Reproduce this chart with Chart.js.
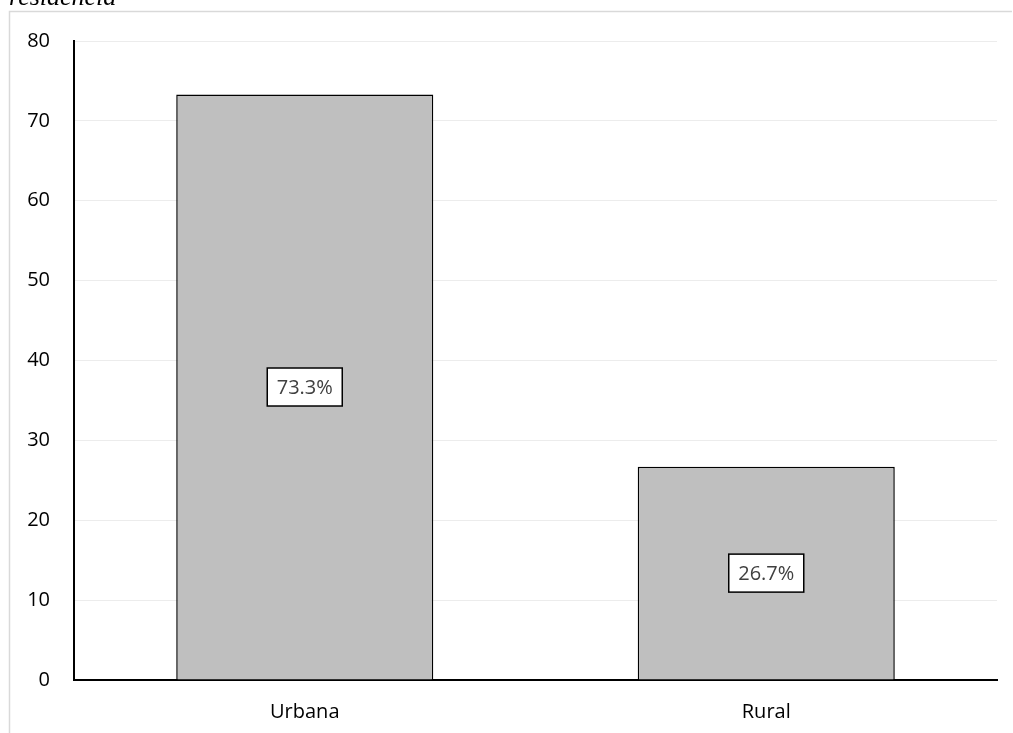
<!DOCTYPE html>
<html>
<head>
<meta charset="utf-8">
<script src="https://cdn.jsdelivr.net/npm/chart.js@4/dist/chart.umd.min.js"></script>
<style>
  html, body { margin: 0; padding: 0; background: #fff; overflow: hidden; }
  #wrap { position: relative; width: 1013px; height: 733px; }
  #titulo {
    position: absolute; left: 9px; top: -18px;
    font-family: "Liberation Serif", serif; font-style: italic; font-size: 26px; color: #000;
  }
  canvas { position: absolute; left: 0; top: 0; }
</style>
</head>
<body>
<div id="wrap">
  <canvas id="chartResidencia" width="1013" height="733"></canvas>
  <div id="titulo">residencia</div>
</div>
<script>
const categorias = ['Urbana', 'Rural'];
const porcentajes = [73.3, 26.7];
const ticksY = [0, 10, 20, 30, 40, 50, 60, 70, 80];

// marco gris del grafico + etiquetas en caja
const marcoYEtiquetas = {
  id: 'marcoYEtiquetas',
  beforeDraw(chart) {
    const c = chart.ctx;
    c.save();
    c.strokeStyle = '#d9d9d9';
    c.lineWidth = 1.5;
    c.beginPath();
    c.moveTo(9.5, 740);
    c.lineTo(9.5, 11.5);
    c.lineTo(1012, 11.5);
    c.stroke();
    c.restore();
  },
  afterDatasetsDraw(chart) {
    const c = chart.ctx;
    const meta = chart.getDatasetMeta(0);
    c.save();
    c.font = '20px "Open Sans"';
    c.textAlign = 'center';
    c.textBaseline = 'middle';
    meta.data.forEach((bar, i) => {
      const txt = porcentajes[i].toFixed(1) + '%';
      const y = (bar.y + bar.base) / 2;
      const w = 75, h = 38;
      c.fillStyle = '#fff';
      c.fillRect(bar.x - w / 2, y - h / 2, w, h);
      c.strokeStyle = '#000';
      c.lineWidth = 1.5;
      c.strokeRect(bar.x - w / 2, y - h / 2, w, h);
      c.fillStyle = '#404040';
      c.fillText(txt, bar.x, y + 1);
    });
    c.restore();
  }
};

const ctx = document.getElementById('chartResidencia').getContext('2d');

new Chart(ctx, {
  type: 'bar',
  data: {
    labels: categorias,
    datasets: [{
      data: porcentajes,
      backgroundColor: '#bfbfbf',
      borderColor: '#000',
      borderWidth: 1.5,
      barPercentage: 0.557,
      categoryPercentage: 1
    }]
  },
  options: {
    responsive: false,
    animation: false,
    layout: { padding: { top: 41, right: 16, left: 0, bottom: 0 } },
    scales: {
      x: {
        grid: { display: false, drawTicks: false },
        border: { color: '#000', width: 2 },
        ticks: { color: '#000', font: { family: 'Open Sans', size: 20 }, padding: 20 },
        afterFit(scale) { scale.height = 53; }
      },
      y: {
        min: 0,
        max: 80,
        afterBuildTicks(scale) { scale.ticks = ticksY.map(v => ({ value: v })); },
        grid: { color: '#ececec', lineWidth: 1, drawTicks: false },
        border: { color: '#000', width: 2 },
        ticks: { color: '#000', font: { family: 'Open Sans', size: 20 }, padding: 24 },
        afterFit(scale) { scale.width = 74; }
      }
    },
    plugins: {
      legend: { display: false },
      tooltip: { enabled: false }
    }
  },
  plugins: [marcoYEtiquetas]
});
</script>
</body>
</html>
